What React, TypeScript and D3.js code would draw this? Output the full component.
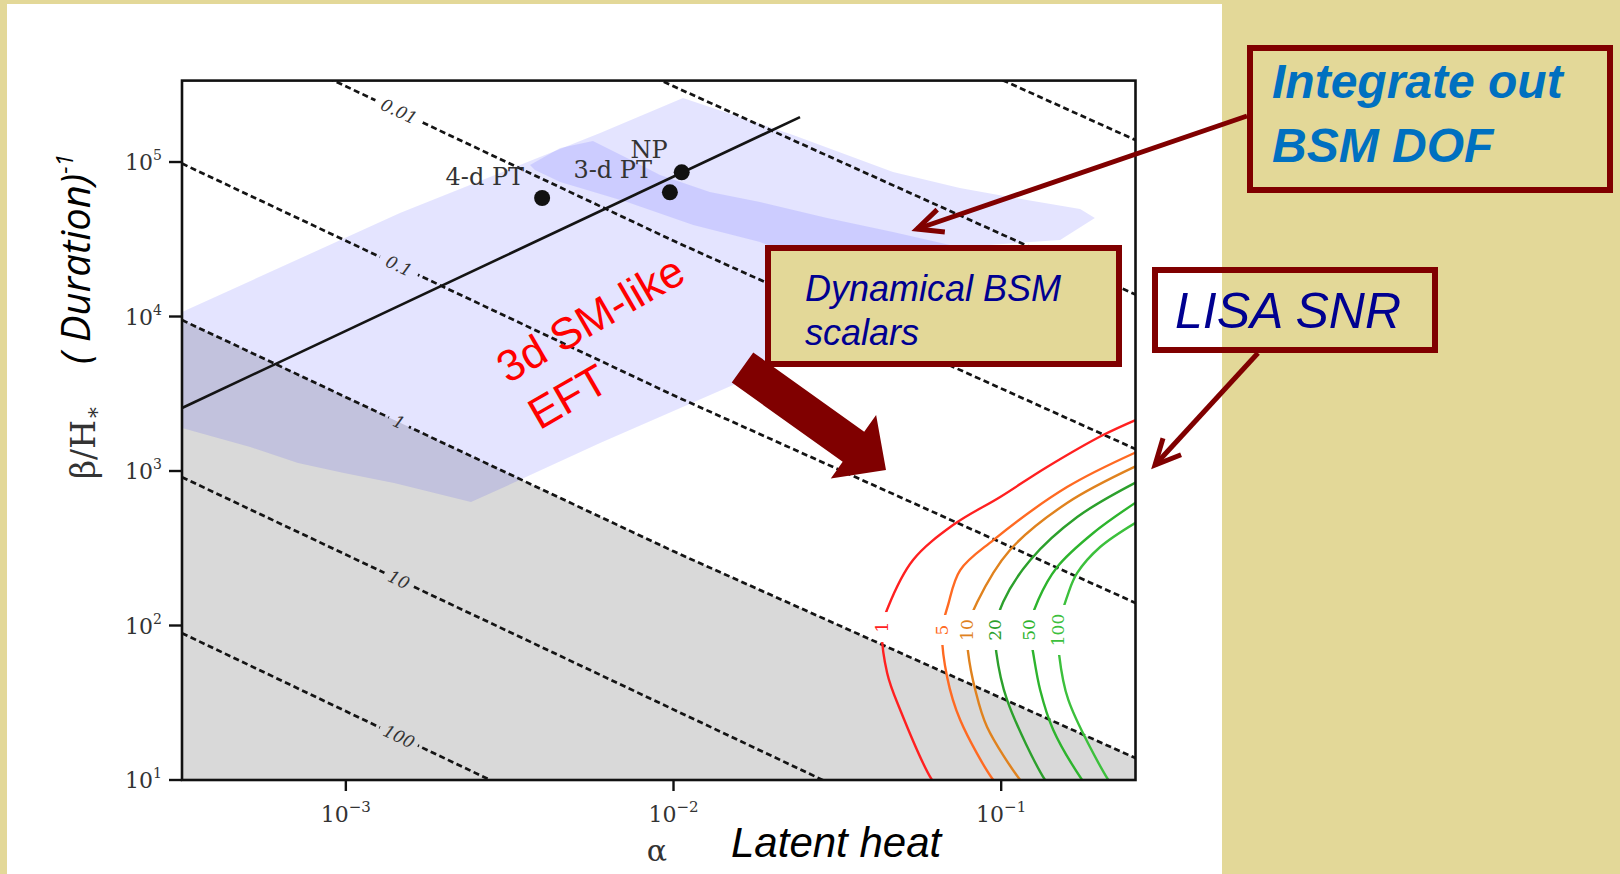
import React from "react";
import * as d3 from "d3";

const W = 1620;
const H = 874;

// ---------- axes (log10 exponents) ----------
const xTickExponents = [-3, -2, -1];
const yTickExponents = [1, 2, 3, 4, 5];
const alphaMin = 3.162e-4;
const alphaMax = 0.257;
const betaMin = 10;
const betaMax = 3.365e5;

// ---------- dashed contours (pairs of [log10 alpha, log10 beta/H]) ----------
const shockValues = ["100", "10", "1", "0.1", "0.01", "0.001", "0.0001"];
const shockLogPts: number[][][] = [
  [[-3.5, 1.95], [-2.5, 0.94]],
  [[-3.5, 2.96], [-1.5, 0.955]],
  [[-3.5, 3.977], [-2.0, 2.48], [-0.59, 1.142]],
  [[-3.5, 4.99], [-2.0, 3.49], [-0.59, 2.146]],
  [[-3.5, 5.99], [-2.0, 4.49], [-0.59, 3.142]],
  [[-3.0, 6.49], [-2.0, 5.49], [-0.59, 4.142]],
  [[-2.0, 6.49], [-0.59, 5.142]],
];
const shockLabelLogAlpha = -2.838;

// ---------- shaded regions ----------
const greyRegion: number[][] = [
  [-3.5, 3.977], [-2.0, 2.48], [-0.59, 1.142], [-0.59, 1.0], [-3.5, 1.0],
];
const outerBand: number[][] = [
  [-3.5, 4.029], [-2.835, 4.67], [-2.224, 5.188], [-1.971, 5.414], [-1.635, 5.175],
  [-1.33, 4.935], [-1.126, 4.832], [-0.921, 4.754], [-0.759, 4.696], [-0.714, 4.638],
  [-0.82, 4.495], [-1.126, 4.45], [-1.217, 4.43], [-1.461, 4.107], [-1.715, 3.699],
  [-1.797, 3.576], [-2.224, 3.181], [-2.49, 2.922], [-2.618, 2.799], [-2.853, 2.922],
  [-3.006, 2.987], [-3.146, 3.052], [-3.292, 3.155], [-3.5, 3.278],
];
const innerBand: number[][] = [
  [-2.438, 4.981], [-2.346, 5.091], [-2.246, 5.136], [-2.142, 5.026], [-2.041, 4.916],
  [-1.889, 4.806], [-1.736, 4.741], [-1.531, 4.638], [-1.33, 4.547], [-1.156, 4.463],
  [-1.156, 4.379], [-1.614, 4.379], [-1.736, 4.482], [-1.94, 4.592], [-2.142, 4.741],
  [-2.346, 4.871], [-2.423, 4.948],
];

// ---------- solid line & benchmark points ----------
const solidLine: number[][] = [[-3.5, 3.408], [-1.614, 5.291]];
const benchmarkNames = ["4-d PT", "3-d PT", "NP"];
const benchmarkLogAlpha = [-2.401, -2.011, -1.975];
const benchmarkLogBeta = [4.767, 4.804, 4.933];

// ---------- LISA SNR contours ----------
const snrLevels = ["1", "5", "10", "20", "50", "100"];
const snrColors = ["#ff2020", "#ff6a22", "#e0821e", "#2ca02c", "#2db42d", "#3cc03c"];
const snrCurves: number[][][] = [
  [[-0.59, 3.33], [-0.689, 3.233], [-0.86, 3.026], [-1.003, 2.832], [-1.147, 2.65], [-1.269, 2.424],
   [-1.345, 2.12], [-1.363, 1.99], [-1.348, 1.693], [-1.308, 1.453], [-1.211, 1.0], [-1.19, 0.95]],
  [[-0.59, 3.12], [-0.799, 2.896], [-1.024, 2.553], [-1.125, 2.359], [-1.162, 2.133], [-1.18, 1.971],
   [-1.165, 1.667], [-1.125, 1.388], [-1.024, 1.0], [-1.0, 0.95]],
  [[-0.59, 3.03], [-0.799, 2.793], [-0.973, 2.489], [-1.073, 2.152], [-1.104, 1.971], [-1.101, 1.828],
   [-1.079, 1.583], [-1.043, 1.343], [-0.942, 1.0], [-0.92, 0.95]],
  [[-0.59, 2.925], [-0.768, 2.702], [-0.911, 2.424], [-0.994, 2.152], [-1.018, 1.971], [-1.015, 1.828],
   [-0.982, 1.518], [-0.866, 1.0], [-0.845, 0.95]],
  [[-0.59, 2.795], [-0.719, 2.599], [-0.829, 2.379], [-0.887, 2.165], [-0.915, 1.971], [-0.905, 1.854],
   [-0.881, 1.583], [-0.841, 1.324], [-0.753, 1.0], [-0.735, 0.95]],
  [[-0.59, 2.665], [-0.698, 2.508], [-0.768, 2.34], [-0.795, 2.21], [-0.826, 1.971], [-0.823, 1.809],
   [-0.795, 1.518], [-0.673, 1.0], [-0.655, 0.95]],
];
const snrLabelIndex = [7, 5, 4, 4, 4, 4];

// ---------- colours ----------
const BG = "#e3d898";
const DARKRED = "#800000";
const NAVY = "#000090";
const BLUE = "#0070c0";

function interp(points: number[][], la: number): number | null {
  for (let i = 0; i < points.length - 1; i++) {
    const [a0, b0] = points[i];
    const [a1, b1] = points[i + 1];
    if ((la - a0) * (la - a1) <= 0 && a1 !== a0) {
      const t = (la - a0) / (a1 - a0);
      return b0 + t * (b1 - b0);
    }
  }
  return null;
}

function arrowHead(x1: number, y1: number, x2: number, y2: number, len: number, deg: number) {
  const ang = Math.atan2(y1 - y2, x1 - x2);
  const r = (deg * Math.PI) / 180;
  const a = [x2 + len * Math.cos(ang + r), y2 + len * Math.sin(ang + r)];
  const b = [x2 + len * Math.cos(ang - r), y2 + len * Math.sin(ang - r)];
  return `M${a[0]},${a[1]} L${x2},${y2} L${b[0]},${b[1]}`;
}

function fatArrow(tx: number, ty: number, hx: number, hy: number, shaftW: number, headW: number, headL: number) {
  const dx = hx - tx, dy = hy - ty;
  const L = Math.hypot(dx, dy);
  const ux = dx / L, uy = dy / L;
  const nx = -uy, ny = ux;
  const bx = hx - ux * headL, by = hy - uy * headL;
  const pts = [
    [tx + nx * shaftW / 2, ty + ny * shaftW / 2],
    [bx + nx * shaftW / 2, by + ny * shaftW / 2],
    [bx + nx * headW / 2, by + ny * headW / 2],
    [hx, hy],
    [bx - nx * headW / 2, by - ny * headW / 2],
    [bx - nx * shaftW / 2, by - ny * shaftW / 2],
    [tx - nx * shaftW / 2, ty - ny * shaftW / 2],
  ];
  return "M" + pts.map((p) => p.join(",")).join("L") + "Z";
}

export default function App() {
  const x = d3.scaleLog().domain([alphaMin, alphaMax]).range([182, 1135.5]);
  const y = d3.scaleLog().domain([betaMin, betaMax]).range([780, 80.6]);
  const P = (d: number[]): [number, number] => [x(Math.pow(10, d[0])), y(Math.pow(10, d[1]))];
  const straight = d3.line<number[]>().x((d) => P(d)[0]).y((d) => P(d)[1]);
  const closed = d3.line<number[]>().x((d) => P(d)[0]).y((d) => P(d)[1]).curve(d3.curveLinearClosed);
  const smooth = d3.line<number[]>().x((d) => P(d)[0]).y((d) => P(d)[1]).curve(d3.curveCatmullRom.alpha(0.5));

  const [x0, x1] = x.range();
  const [yb, yt] = y.range();

  const shockLabels = shockValues
    .map((v, i) => {
      const pts = shockLogPts[i];
      const lb = interp(pts, shockLabelLogAlpha);
      if (lb === null) return null;
      const p = P([shockLabelLogAlpha, lb]);
      if (p[1] < yt + 8 || p[1] > yb - 8) return null;
      const la1 = shockLabelLogAlpha - 0.05, la2 = shockLabelLogAlpha + 0.05;
      const p1 = P([la1, interp(pts, la1) as number]);
      const p2 = P([la2, interp(pts, la2) as number]);
      const ang = (Math.atan2(p2[1] - p1[1], p2[0] - p1[0]) * 180) / Math.PI;
      return { v, px: p[0], py: p[1], ang, w: v.length * 10 + 12 };
    })
    .filter(Boolean) as { v: string; px: number; py: number; ang: number; w: number }[];

  const snrLabels = snrLevels.map((v, i) => {
    const p = P(snrCurves[i][snrLabelIndex[i]]);
    return { v, px: p[0], py: p[1], w: v.length * 10 + 20, color: snrColors[i] };
  });

  const serif = "'DejaVu Serif', 'Liberation Serif', serif";
  const sans = "'Liberation Sans', Arial, sans-serif";

  return (
    <svg width={W} height={H} style={{ position: "absolute", left: 0, top: 0 }} xmlns="http://www.w3.org/2000/svg">
      <defs>
        <clipPath id="plotClip">
          <rect x={x0} y={yt} width={x1 - x0} height={yb - yt} />
        </clipPath>
        <mask id="shockMask" maskUnits="userSpaceOnUse" x={0} y={0} width={W} height={H}>
          <rect x={0} y={0} width={W} height={H} fill="white" />
          {shockLabels.map((l, i) => (
            <rect key={i} x={-l.w / 2} y={-8} width={l.w} height={16} fill="black"
              transform={`translate(${l.px},${l.py}) rotate(${l.ang})`} />
          ))}
        </mask>
        <mask id="snrMask" maskUnits="userSpaceOnUse" x={0} y={0} width={W} height={H}>
          <rect x={0} y={0} width={W} height={H} fill="white" />
          {snrLabels.map((l, i) => (
            <rect key={i} x={l.px - 8} y={l.py - l.w / 2} width={16} height={l.w} fill="black" />
          ))}
        </mask>
      </defs>

      {/* backgrounds */}
      <rect x={0} y={0} width={W} height={H} fill={BG} />
      <rect x={7} y={4} width={1215} height={H - 4} fill="#ffffff" />

      {/* plot content */}
      <g clipPath="url(#plotClip)">
        <path d={closed(greyRegion) as string} fill="#d9d9d9" />
        <path d={closed(outerBand) as string} fill="#0000ff" fillOpacity={0.105} />
        <path d={closed(innerBand) as string} fill="#0000ff" fillOpacity={0.1} />

        <g mask="url(#shockMask)">
          {shockLogPts.map((pts, i) => (
            <path key={i} d={straight(pts) as string} fill="none" stroke="#141414" strokeWidth={2.7} strokeDasharray="6,3.5" />
          ))}
        </g>

        <g mask="url(#snrMask)">
          {snrCurves.map((pts, i) => (
            <path key={i} d={smooth(pts) as string} fill="none" stroke={snrColors[i]} strokeWidth={2.4} />
          ))}
        </g>

        <path d={straight(solidLine) as string} fill="none" stroke="#141414" strokeWidth={2.6} />
      </g>

      {shockLabels.map((l, i) => (
        <text key={i} transform={`translate(${l.px},${l.py}) rotate(${l.ang})`} textAnchor="middle"
          dominantBaseline="central" fontFamily={serif} fontSize={17} fontStyle="italic" fill="#333">
          {l.v}
        </text>
      ))}
      {snrLabels.map((l, i) => (
        <text key={i} transform={`translate(${l.px},${l.py}) rotate(-90)`} textAnchor="middle"
          dominantBaseline="central" fontFamily={serif} fontSize={17} fill={l.color}>
          {l.v}
        </text>
      ))}

      {/* benchmark points */}
      {benchmarkNames.map((n, i) => {
        const p = P([benchmarkLogAlpha[i], benchmarkLogBeta[i]]);
        return <circle key={n} cx={p[0]} cy={p[1]} r={8} fill="#111" />;
      })}
      {benchmarkNames.map((n, i) => {
        const p = P([benchmarkLogAlpha[i], benchmarkLogBeta[i]]);
        const off = [[-18, -13], [-18, -14], [-14, -14]][i];
        return (
          <text key={n} x={p[0] + off[0]} y={p[1] + off[1]} textAnchor="end" fontFamily={serif} fontSize={24} fill="#333">
            {n}
          </text>
        );
      })}

      {/* frame & ticks */}
      <rect x={x0} y={yt} width={x1 - x0} height={yb - yt} fill="none" stroke="#111" strokeWidth={2.6} />
      {yTickExponents.map((e) => {
        const yy = y(Math.pow(10, e));
        return (
          <g key={e}>
            <line x1={x0 - 13} x2={x0} y1={yy} y2={yy} stroke="#111" strokeWidth={2.4} />
            <text x={x0 - 20} y={yy + 8} textAnchor="end" fontFamily={serif} fontSize={22} fill="#333">
              10<tspan dy={-10} fontSize={14}>{e}</tspan>
            </text>
          </g>
        );
      })}
      {xTickExponents.map((e) => {
        const xx = x(Math.pow(10, e));
        return (
          <g key={e}>
            <line x1={xx} x2={xx} y1={yb} y2={yb + 11} stroke="#111" strokeWidth={2.4} />
            <text x={xx} y={822} textAnchor="middle" fontFamily={serif} fontSize={22} fill="#333">
              10<tspan dy={-10} fontSize={15}>{"\u2212" + Math.abs(e)}</tspan>
            </text>
          </g>
        );
      })}

      {/* axis labels */}
      <text transform="translate(95,479) rotate(-90)" fontFamily={serif} fontSize={33} fill="#333">
        β/H<tspan dy={5} fontSize={22}>∗</tspan>
      </text>
      <text transform="translate(90,364) rotate(-90)" fontFamily="'Open Sans', sans-serif" fontStyle="italic" fontSize={40} fill="#000">
        ( Duration)<tspan dy={-17} fontSize={23}>-1</tspan>
      </text>
      <text x={657} y={861} textAnchor="middle" fontFamily={serif} fontSize={30} fill="#333">α</text>
      <text x={731} y={857} fontFamily={sans} fontStyle="italic" fontSize={42} fill="#000">Latent heat</text>

      {/* red annotation */}
      <text transform="translate(508,384) rotate(-30)" fontFamily={sans} fontSize={44} fill="#ff0000">
        <tspan x={0} y={0}>3d SM-like</tspan>
        <tspan x={4} y={56}>EFT</tspan>
      </text>

      {/* fat arrow */}
      <path d={fatArrow(742.5, 367.5, 886, 470, 37, 78, 40)} fill={DARKRED} />

      {/* Dynamical BSM box */}
      <rect x={768} y={248} width={351} height={116} fill={BG} stroke={DARKRED} strokeWidth={6} />
      <text x={805} y={301} fontFamily={sans} fontStyle="italic" fontSize={36} fill={NAVY}>Dynamical BSM</text>
      <text x={805} y={345} fontFamily={sans} fontStyle="italic" fontSize={36} fill={NAVY}>scalars</text>

      {/* Integrate out box */}
      <rect x={1250} y={48} width={360} height={142} fill={BG} stroke={DARKRED} strokeWidth={6} />
      <text x={1272} y={98} fontFamily={sans} fontStyle="italic" fontWeight="bold" fontSize={48} fill={BLUE}>Integrate out</text>
      <text x={1272} y={162} fontFamily={sans} fontStyle="italic" fontWeight="bold" fontSize={48} fill={BLUE}>BSM DOF</text>
      <line x1={1247} y1={116} x2={917} y2={229} stroke={DARKRED} strokeWidth={5} />
      <path d={arrowHead(1247, 116, 917, 229, 28, 25)} fill="none" stroke={DARKRED} strokeWidth={5} />

      {/* LISA SNR box */}
      <rect x={1155} y={270} width={280} height={80} fill="none" stroke={DARKRED} strokeWidth={6} />
      <text x={1175} y={328} fontFamily={sans} fontStyle="italic" fontSize={50} fill={NAVY}>LISA SNR</text>
      <line x1={1258} y1={353} x2={1155} y2={465} stroke={DARKRED} strokeWidth={5} />
      <path d={arrowHead(1258, 353, 1155, 465, 28, 26)} fill="none" stroke={DARKRED} strokeWidth={5} />
    </svg>
  );
}
